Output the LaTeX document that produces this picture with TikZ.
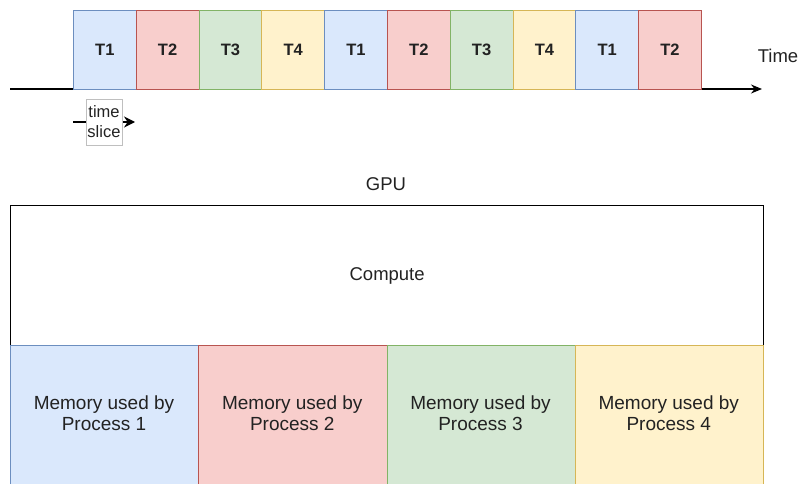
\documentclass[tikz,border=0pt]{standalone}
\usepackage{fontspec}
\setmainfont{Liberation Sans}
\usetikzlibrary{arrows.meta}

\definecolor{fillblue}{HTML}{DAE8FC}
\definecolor{lineblue}{HTML}{6C8EBF}
\definecolor{fillred}{HTML}{F8CECC}
\definecolor{linered}{HTML}{B85450}
\definecolor{fillgreen}{HTML}{D5E8D4}
\definecolor{linegreen}{HTML}{82B366}
\definecolor{fillyellow}{HTML}{FFF2CC}
\definecolor{lineyellow}{HTML}{D6B656}
\definecolor{inkgray}{HTML}{222222}

\tikzset{
  slot/.style={anchor=north west, minimum width=62.8pt, minimum height=79pt,
    inner sep=0pt, line width=0.8pt, text=inkgray,
    font=\bfseries\fontsize{16.5}{19}\selectfont},
  axis/.style={line width=1.4pt, -{Stealth[length=11pt,width=9pt]}},
  slicebox/.style={draw=black!25, fill=white, align=center, inner sep=0.5pt,
    minimum width=36pt, minimum height=46pt, text=inkgray,
    font=\fontsize{16.5}{20}\selectfont},
  plain/.style={text=inkgray, font=\fontsize{18.5}{22}\selectfont},
  gpubox/.style={draw, line width=1.3pt, anchor=north west, minimum width=753pt,
    minimum height=140pt, inner sep=0pt},
  membox/.style={anchor=north west, minimum width=188.25pt, minimum height=145pt,
    inner sep=0pt, line width=0.8pt},
  memtext/.style={align=center, text=inkgray, font=\fontsize{19}{21}\selectfont},
}

\begin{document}
\begin{tikzpicture}[x=1pt,y=-1pt]
    \useasboundingbox (0,0) rectangle (800,484);
    % time line
    \coordinate (axisstart) at (10,89);
    \coordinate (axisend) at (762,89);
    \draw[axis] (axisstart) -- (axisend);
    \foreach \lab/\col [count=\i from 0] in {T1/blue,T2/red,T3/green,T4/yellow,T1/blue,T2/red,T3/green,T4/yellow,T1/blue,T2/red}
        \node[slot, fill=fill\col, draw=line\col] (slot\i) at ({73+\i*62.8},10) {\lab};
    \node[plain] (timelab) at (778,56) {Time};
    % one slice
    \coordinate (slicestart) at (73,122);
    \coordinate (sliceend) at (135,122);
    \draw[line width=1.2pt, -{Stealth[length=11pt,width=11pt]}] (slicestart) -- (sliceend);
    \node[slicebox] (slicelab) at (104,122) {time\\slice};
    % gpu
    \node[plain] (gpulab) at (386,184) {GPU};
    \node[gpubox] (gpu) at (10,205) {};
    \node[plain] (computelab) at (gpu.center) {Compute};
    \foreach \col [count=\i] in {blue,red,green,yellow} {
        \node[membox, fill=fill\col, draw=line\col] (mem\i) at ({10+(\i-1)*188.25},345) {};
        \node[memtext] (memlab\i) at ({104+(\i-1)*188.25},413) {Memory used by\\Process \i};
    }
\end{tikzpicture}
\end{document}
